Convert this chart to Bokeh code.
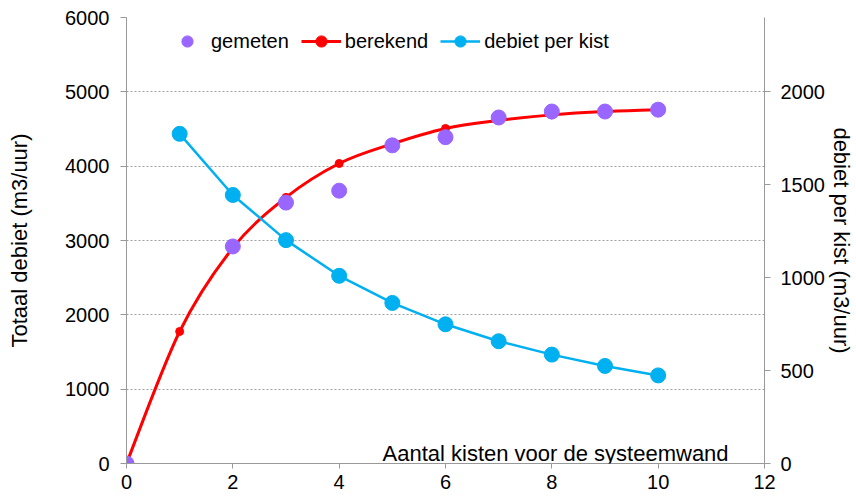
import numpy as np
from bokeh.plotting import figure
from bokeh.models import (Range1d, LinearAxis, FixedTicker, Legend, LegendItem,
                          Label)
from bokeh.embed import file_html
from bokeh.resources import INLINE

# ---- data ----
aantal = [0, 1, 2, 3, 4, 5, 6, 7, 8, 9, 10]
berekend = [0, 1776, 2900, 3580, 4036, 4300, 4507, 4615, 4690, 4735, 4760]
gemeten_x = [0, 2, 3, 4, 5, 6, 7, 8, 9, 10]
gemeten = [0, 2920, 3510, 3670, 4280, 4390, 4655, 4735, 4735, 4760]
kist_x = [1, 2, 3, 4, 5, 6, 7, 8, 9, 10]
debiet_per_kist = [1774, 1445, 1202, 1010, 864, 749, 658, 586, 525, 474]
x_ticks = [0, 2, 4, 6, 8, 10, 12]
left_ticks = [0, 1000, 2000, 3000, 4000, 5000, 6000]
right_ticks = [0, 500, 1000, 1500, 2000]

FONT = "Liberation Sans"
PURPLE = "#9966FF"
RED = "#FF0000"
BLUE = "#00B0F0"
GREY = "#A0A0A0"

W, H = 856, 497
B_LEFT, B_RIGHT, B_TOP, B_BOTTOM = 126, 91, 17, 34
FRAME_W = W - B_LEFT - B_RIGHT
FRAME_H = H - B_TOP - B_BOTTOM

p = figure(width=W, height=H, output_backend="svg", toolbar_location=None,
           x_range=Range1d(0, 12), y_range=Range1d(0, 6000),
           min_border_left=B_LEFT, min_border_right=B_RIGHT,
           min_border_top=B_TOP, min_border_bottom=B_BOTTOM)
p.outline_line_color = None
p.background_fill_color = "white"
p.border_fill_color = "white"
p.extra_y_ranges = {"kist": Range1d(0, 2400)}

# grid
p.xgrid.visible = False
p.ygrid.ticker = FixedTicker(ticks=left_ticks)
p.ygrid.grid_line_color = GREY
p.ygrid.grid_line_dash = "2 2"
p.ygrid.grid_line_width = 1

def style_axis(ax):
    ax.axis_line_color = "#999999"
    ax.axis_line_width = 1
    ax.major_tick_line_color = "#999999"
    ax.major_tick_in = 0
    ax.major_tick_out = 6
    ax.minor_tick_line_color = None
    ax.major_label_text_font = FONT
    ax.major_label_text_font_size = "20px"
    ax.major_label_text_color = "black"
    ax.axis_label_text_font = FONT
    ax.axis_label_text_font_size = "22px"
    ax.axis_label_text_font_style = "normal"
    ax.axis_label_text_color = "black"

# bottom axis
xa = p.xaxis[0]
style_axis(xa)
xa.ticker = FixedTicker(ticks=x_ticks)
xa.major_tick_out = 5
xa.major_label_standoff = 6

# left axis
ya = p.yaxis[0]
style_axis(ya)
ya.ticker = FixedTicker(ticks=left_ticks)
ya.major_label_standoff = 11
ya.axis_label = "Totaal debiet (m3/uur)"
ya.axis_label_standoff = 30

# right axis
ra = LinearAxis(y_range_name="kist")
style_axis(ra)
ra.ticker = FixedTicker(ticks=right_ticks)
ra.major_label_standoff = 10
ra.axis_label = "debiet per kist (m3/uur)"
ra.axis_label_standoff = 1
p.add_layout(ra, "right")

# ---- berekend: smoothed curve (Catmull-Rom as Bezier segments) ----
xs = np.array(aantal, dtype=float)
ys = np.array(berekend, dtype=float)
n = len(xs)
x0, y0, x1, y1, cx0, cy0, cx1, cy1 = ([] for _ in range(8))
for i in range(n - 1):
    a = i - 1 if i > 0 else i
    d = i + 2 if i + 2 < n else i + 1
    x0.append(xs[i]); y0.append(ys[i])
    x1.append(xs[i + 1]); y1.append(ys[i + 1])
    cx0.append(xs[i] + (xs[i + 1] - xs[a]) / 6.0)
    cy0.append(ys[i] + (ys[i + 1] - ys[a]) / 6.0)
    cx1.append(xs[i + 1] - (xs[d] - xs[i]) / 6.0)
    cy1.append(ys[i + 1] - (ys[d] - ys[i]) / 6.0)
p.bezier(x0=x0, y0=y0, x1=x1, y1=y1, cx0=cx0, cy0=cy0, cx1=cx1, cy1=cy1,
         line_color=RED, line_width=3)
red_pts = p.scatter(aantal, berekend, size=8, color=RED, line_color=RED)

# gemeten
purple_pts = p.scatter(gemeten_x, gemeten, size=15, color=PURPLE, line_color=PURPLE)

# debiet per kist (right axis)
blue_line = p.line(kist_x, debiet_per_kist, line_color=BLUE, line_width=2.5,
                   y_range_name="kist")
blue_pts = p.scatter(kist_x, debiet_per_kist, size=15, color=BLUE, line_color=BLUE,
                     y_range_name="kist")

# legend proxy line for "berekend" (single point: draws nothing in the plot)
red_leg_line = p.line(x=aantal[:1], y=berekend[:1], line_color=RED, line_width=3)

legend = Legend(items=[
    LegendItem(label="gemeten", renderers=[purple_pts]),
    LegendItem(label="berekend", renderers=[red_leg_line, red_pts]),
    LegendItem(label="debiet per kist", renderers=[blue_line, blue_pts]),
], orientation="horizontal", location=(41, FRAME_H - 38),
    glyph_width=40, glyph_height=28, label_standoff=4, spacing=12,
    padding=0, margin=0, border_line_color=None, background_fill_alpha=0,
    label_text_font=FONT, label_text_font_size="20px", label_text_color="black",
    label_height=28)
p.add_layout(legend, "center")

# x axis title placed inside the plot area
p.add_layout(Label(x=8.07, y=135, text="Aantal kisten voor de systeemwand",
                   text_align="center", text_baseline="alphabetic",
                   text_font=FONT, text_font_size="22px", text_color="black"))

open("out.html", "w").write(file_html(p, INLINE))
